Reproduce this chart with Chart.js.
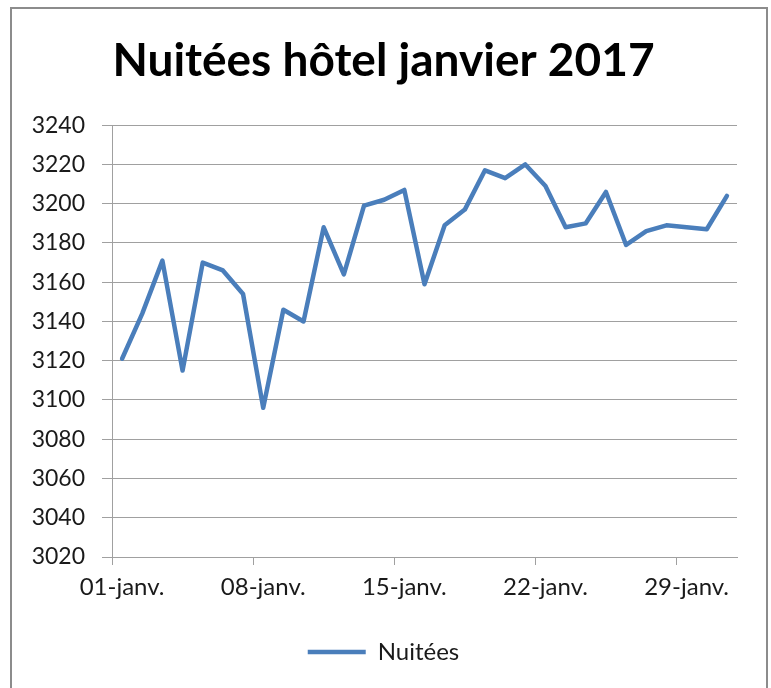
<!DOCTYPE html>
<html>
<head>
<meta charset="utf-8">
<script src="https://cdn.jsdelivr.net/npm/chart.js@4"></script>
<style>
  html, body { margin: 0; padding: 0; background: #fff; overflow: hidden; }
  #wrap { position: relative; width: 771px; height: 688px; }
  #cadre {
    position: absolute; left: 10px; top: 7px; width: 754px; height: 720px;
    border: 2px solid #8c8c8c; pointer-events: none;
  }
  canvas { position: absolute; left: 0; top: 0; }
</style>
</head>
<body>
<div id="wrap">
  <canvas id="chartNuitees" width="771" height="688"></canvas>
  <div id="cadre"></div>
</div>
<script>
const jours = [
  '01-janv.', '02-janv.', '03-janv.', '04-janv.', '05-janv.', '06-janv.', '07-janv.',
  '08-janv.', '09-janv.', '10-janv.', '11-janv.', '12-janv.', '13-janv.', '14-janv.',
  '15-janv.', '16-janv.', '17-janv.', '18-janv.', '19-janv.', '20-janv.', '21-janv.',
  '22-janv.', '23-janv.', '24-janv.', '25-janv.', '26-janv.', '27-janv.', '28-janv.',
  '29-janv.', '30-janv.', '31-janv.'
];
const nuitees = [
  3121, 3144, 3171, 3115, 3170, 3166, 3154,
  3096, 3146, 3140, 3188, 3164, 3199, 3202,
  3207, 3159, 3189, 3197, 3217, 3213, 3220,
  3209, 3188, 3190, 3206, 3179, 3186, 3189,
  3188, 3187, 3204
];
const yMin = 3020;
const yMax = 3240;
const yPas = 20;

const gris = '#a0a0a0';
const bleu = '#4a7ebb';

new Chart(document.getElementById('chartNuitees'), {
  type: 'line',
  data: {
    labels: jours,
    datasets: [{
      label: 'Nuitées',
      data: nuitees,
      borderColor: bleu,
      backgroundColor: bleu,
      borderWidth: 4.5,
      borderCapStyle: 'round',
      borderJoinStyle: 'round',
      pointRadius: 0,
      tension: 0
    }]
  },
  options: {
    responsive: false,
    animation: false,
    // marges pour caler la zone de tracé comme l'original
    layout: { padding: { left: 30, right: 34, top: 0, bottom: 14 } },
    plugins: {
      title: {
        display: true,
        text: 'Nuitées hôtel janvier 2017',
        color: '#000',
        font: { family: 'Lato', size: 46, weight: 'bold' },
        padding: { top: 34, bottom: 36 }
      },
      legend: {
        position: 'bottom',
        labels: {
          color: '#1a1a1a',
          font: { family: 'Lato', size: 24 },
          usePointStyle: true,
          pointStyle: 'line',
          pointStyleWidth: 58,
          padding: 10
        }
      },
      tooltip: { enabled: false }
    },
    scales: {
      x: {
        offset: true,
        grid: {
          offset: true,
          drawOnChartArea: false,
          tickLength: 8,
          tickColor: ctx => (ctx.index % 7 === 0 ? gris : 'transparent')
        },
        border: { color: gris },
        ticks: {
          autoSkip: false,
          maxRotation: 0,
          padding: 8,
          color: '#1a1a1a',
          font: { family: 'Lato', size: 24 },
          callback: (val, i) => (i % 7 === 0 ? jours[i] : '')
        },
        afterFit: s => { s.height = 73; s.paddingLeft = 0; s.paddingRight = 0; }
      },
      y: {
        min: yMin,
        max: yMax,
        grid: { color: gris, tickLength: 10 },
        border: { color: gris },
        ticks: {
          stepSize: yPas,
          padding: 17,
          color: '#1a1a1a',
          font: { family: 'Lato', size: 23 },
          callback: v => String(v)
        },
        afterFit: s => { s.width = 82; s.paddingTop = 0; s.paddingBottom = 0; }
      }
    }
  }
});
</script>
</body>
</html>
